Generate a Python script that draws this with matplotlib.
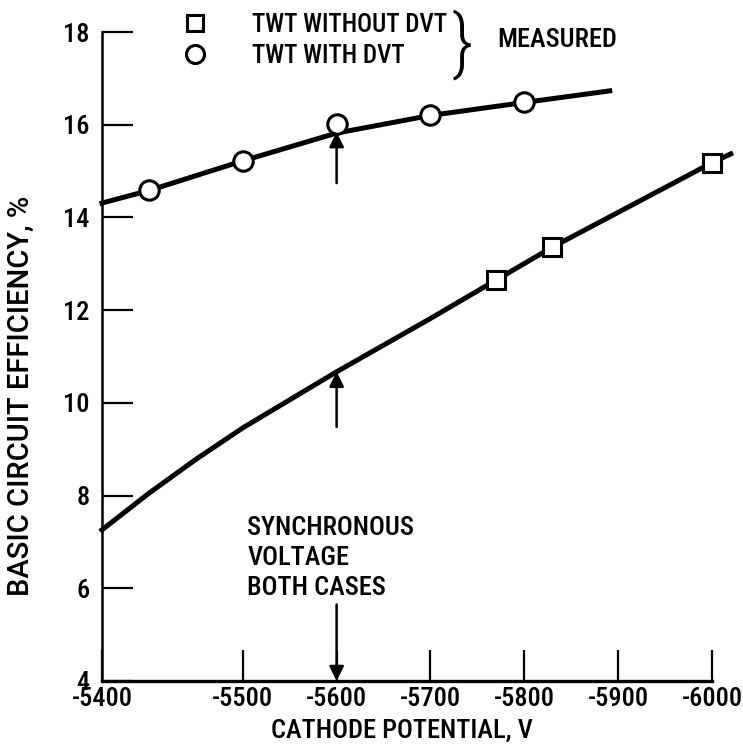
import numpy as np
import matplotlib.pyplot as plt
from matplotlib.lines import Line2D

plt.rcParams['font.family'] = ['Roboto Condensed', 'PT Sans Narrow', 'Archivo Narrow',
                               'Liberation Sans Narrow', 'DejaVu Sans']
plt.rcParams['font.weight'] = 'medium'

# Measured points
x_without = [-5770, -5830, -6000]
y_without = [12.65, 13.36, 15.18]
x_with = [-5400, -5500, -5600, -5700, -5800]
y_with = [14.59, 15.22, 16.02, 16.21, 16.49]

# Faired curves
x_curve_without = [-5350, -5400, -5450, -5500, -5600, -5700, -5770, -5830, -6000, -6020]
y_curve_without = [7.26, 8.05, 8.78, 9.46, 10.67, 11.82, 12.65, 13.36, 15.18, 15.37]
x_curve_with = [-5350, -5400, -5500, -5600, -5700, -5800, -5891]
y_curve_with = [14.31, 14.58, 15.22, 15.82, 16.20, 16.48, 16.73]

sync_voltage = -5600

xticks = [-5350, -5500, -5600, -5700, -5800, -5900, -6000]
xticklabels = ['-5400', '-5500', '-5600', '-5700', '-5800', '-5900', '-6000']
yticks = [4, 6, 8, 10, 12, 14, 16, 18]
yticklabels = ['4', '6', '8', '10', '12', '14', '16', '18']

fig = plt.figure(figsize=(7.43, 7.54), dpi=100)
ax = fig.add_axes([102/743, 1 - 681/754, 610/743, 649/754])

ax.plot(x_curve_without, y_curve_without, color='black', lw=3.6, clip_on=False, zorder=2)
ax.plot(x_curve_with, y_curve_with, color='black', lw=3.6, clip_on=False, zorder=2)
ax.plot(x_without, y_without, ls='none', marker='s', ms=13, mfc='white', mec='black',
        mew=2.2, clip_on=False, zorder=3)
ax.plot(x_with, y_with, ls='none', marker='o', ms=14, mfc='white', mec='black',
        mew=2.2, clip_on=False, zorder=3)

# arrows marking synchronous voltage
arrow = dict(arrowstyle='-|>', color='black', lw=1.8, mutation_scale=22, shrinkA=0, shrinkB=0)
ax.annotate('', xy=(sync_voltage, 15.84), xytext=(sync_voltage, 14.74), arrowprops=arrow)
ax.annotate('', xy=(sync_voltage, 10.67), xytext=(sync_voltage, 9.48), arrowprops=arrow)
ax.annotate('', xy=(sync_voltage, 4.0), xytext=(sync_voltage, 5.65), arrowprops=arrow)
ax.text(-5505, 7.57, 'SYNCHRONOUS\nVOLTAGE\nBOTH CASES', fontsize=19, ha='left', va='top',
        linespacing=1.32, fontweight='medium')

ax.set_xlim(-5350, -6000)
ax.set_ylim(4, 18)
ax.set_xticks(xticks)
ax.set_xticklabels(xticklabels, fontsize=19, fontweight='medium')
ax.set_yticks(yticks)
ax.set_yticklabels(yticklabels, fontsize=19, fontweight='medium')
ax.tick_params(direction='in', length=22, width=1.6)
ax.tick_params(axis='y', pad=9)
ax.tick_params(axis='x', pad=4)
for s in ['top', 'right']:
    ax.spines[s].set_visible(False)
ax.spines['left'].set_linewidth(1.8)
ax.spines['bottom'].set_linewidth(2.4)
ax.set_xlabel('CATHODE POTENTIAL, V', fontsize=19, fontweight='medium')
ax.set_ylabel('BASIC CIRCUIT EFFICIENCY, %', fontsize=21, fontweight='medium',
              family=['Roboto', 'DejaVu Sans'])
ax.xaxis.set_label_coords(0.492, -0.058)
ax.yaxis.set_label_coords(-0.110, 0.44)

handles = [Line2D([], [], ls='none', marker='s', ms=12, mfc='white', mec='black', mew=2.2),
           Line2D([], [], ls='none', marker='o', ms=13, mfc='white', mec='black', mew=2.2)]
leg = fig.legend(handles, ['TWT WITHOUT DVT', 'TWT WITH DVT'], loc='upper left',
                 bbox_to_anchor=(180/743, 1 - 13/754), frameon=False, fontsize=18,
                 handlelength=1.2, handletextpad=1.68, labelspacing=0.28,
                 borderpad=0, borderaxespad=0)
fig.text(463/743, 1 - 45/754, '}', fontsize=52, ha='center', va='center', fontweight='light')
fig.text(497/743, 1 - 40/754, 'MEASURED', fontsize=19, ha='left', va='center',
         fontweight='medium')

fig.savefig('out.png', dpi=100)
